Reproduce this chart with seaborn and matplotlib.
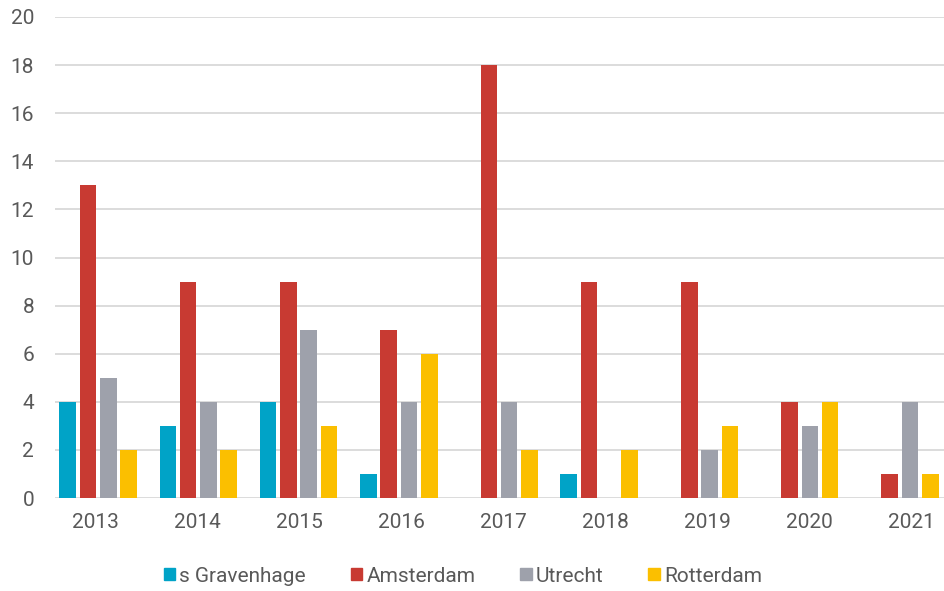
import matplotlib
matplotlib.use("Agg")
import matplotlib.pyplot as plt
import seaborn as sns
import pandas as pd

years = ["2013", "2014", "2015", "2016", "2017", "2018", "2019", "2020", "2021"]
cities = ["s Gravenhage", "Amsterdam", "Utrecht", "Rotterdam"]
s_gravenhage = [4, 3, 4, 1, 0, 1, 0, 0, 0]
amsterdam = [13, 9, 9, 7, 18, 9, 9, 4, 1]
utrecht = [5, 4, 7, 4, 4, 0, 2, 3, 4]
rotterdam = [2, 2, 3, 6, 2, 2, 3, 4, 1]
colors = ["#00A3C7", "#C83A32", "#9EA1AB", "#FBBF00"]

rows = []
for city, vals in zip(cities, [s_gravenhage, amsterdam, utrecht, rotterdam]):
    for y, v in zip(years, vals):
        rows.append({"year": y, "city": city, "value": v})
df = pd.DataFrame(rows)

sns.set_theme(style="white")
plt.rcParams["font.family"] = ["Roboto", "DejaVu Sans"]
text_color = "#595959"

fig = plt.figure(figsize=(9.45, 5.91), dpi=100)
ax = fig.add_axes([55 / 945, 1 - 498 / 591, 890 / 945, (498 - 17) / 591])

sns.barplot(data=df, x="year", y="value", hue="city", hue_order=cities,
            palette=colors, width=0.81, gap=0.18, ax=ax, legend=True,
            saturation=1, errorbar=None, linewidth=0)

ax.set_ylim(0, 20)
ax.set_yticks(range(0, 21, 2))
ax.set_xlim(-0.43, 8.45)
# year labels sit on a slightly wider pitch than the bar groups
ax.set_xticks([-0.03 + 1.0185 * i for i in range(len(years))])
ax.set_xticklabels(years)
ax.yaxis.grid(True, color="#D9D9D9", linewidth=1.3)
ax.set_axisbelow(True)
for s in ax.spines.values():
    s.set_visible(False)
ax.set_xlabel("")
ax.set_ylabel("")
ax.tick_params(axis="both", length=0, labelsize=15, colors=text_color)
ax.tick_params(axis="y", pad=15)
ax.tick_params(axis="x", pad=11)

ax.legend_.remove()
handles = [plt.Rectangle((0, 0), 1, 1, color=c) for c in colors]
fig.legend(handles, cities, loc="center", bbox_to_anchor=(463 / 945, 1 - 576 / 591),
           ncol=4, frameon=False, fontsize=15, handlelength=0.55, handleheight=0.55,
           handletextpad=0.2, columnspacing=2.15, labelcolor=text_color)

fig.savefig("out.png", dpi=100)
